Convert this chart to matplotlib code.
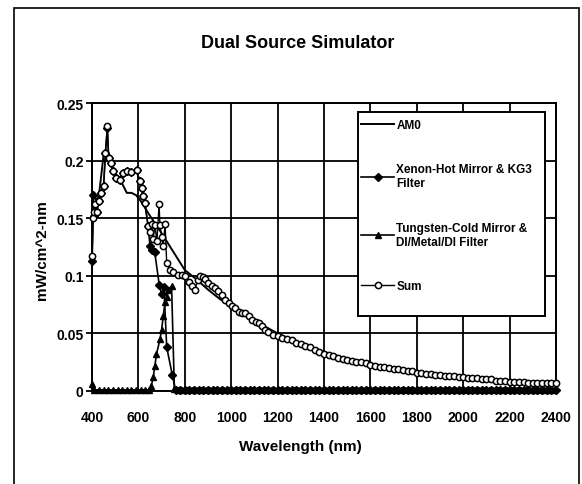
import matplotlib
matplotlib.use("Agg")
import matplotlib.pyplot as plt
from matplotlib.patches import Rectangle

plt.rcParams['font.family'] = ['Liberation Sans', 'DejaVu Sans']
plt.rcParams['font.weight'] = 'bold'

title = "Dual Source Simulator"
xlabel = "Wavelength (nm)"
ylabel = "mW/cm^2-nm"
series_names = ["AM0", "Xenon-Hot Mirror & KG3\nFilter",
                "Tungsten-Cold Mirror &\nDI/Metal/DI Filter", "Sum"]
xticks = [400, 600, 800, 1000, 1200, 1400, 1600, 1800, 2000, 2200, 2400]
yticks = [0, 0.05, 0.1, 0.15, 0.2, 0.25]
ytick_labels = ["0", "0.05", "0.1", "0.15", "0.2", "0.25"]

# AM0 reference spectrum
am0_wl = [400, 405, 420, 430, 450, 470, 490, 510, 530, 550, 570, 590, 610, 650,
          700, 750, 800, 850, 900, 950, 1000, 1100, 1200, 1300, 1400, 1500, 1600,
          1700, 1800, 1900, 2000, 2100, 2200, 2300, 2400]
am0_val = [0.112, 0.172, 0.165, 0.170, 0.205, 0.203, 0.192, 0.186, 0.180, 0.172,
           0.172, 0.170, 0.165, 0.152, 0.137, 0.121, 0.105, 0.097, 0.088, 0.080,
           0.073, 0.061, 0.050, 0.041, 0.034, 0.028, 0.023, 0.019, 0.016, 0.014,
           0.012, 0.010, 0.009, 0.008, 0.007]

# Xenon with hot mirror & KG3
xe_wl = [400, 405, 410, 420, 430, 440, 450, 458, 466, 472, 481, 491, 505, 520, 534,
         549, 570, 592, 606, 614, 621, 628, 642, 650, 660, 670, 690, 700, 710, 722,
         746,
         760, 780, 800, 820, 840, 860, 880, 900, 920, 940, 960, 980, 1000, 1020,
         1040, 1060, 1080, 1100, 1120, 1140, 1160, 1180, 1200, 1220, 1240, 1260,
         1280, 1300, 1320, 1340, 1360, 1380, 1400, 1420, 1440, 1460, 1480, 1500,
         1520, 1540, 1560, 1580, 1600, 1620, 1640, 1660, 1680, 1700, 1720, 1740,
         1760, 1780, 1800, 1820, 1840, 1860, 1880, 1900, 1920, 1940, 1960, 1980,
         2000, 2020, 2040, 2060, 2080, 2100, 2120, 2140, 2160, 2180, 2200, 2220,
         2240, 2260, 2280, 2300, 2320, 2340, 2360, 2380, 2400]
xe_val = [0.113, 0.170, 0.152, 0.155, 0.165, 0.172, 0.178, 0.207, 0.228, 0.202,
          0.198, 0.191, 0.185, 0.183, 0.189, 0.191, 0.190, 0.192, 0.182, 0.176,
          0.169, 0.163, 0.143, 0.126, 0.122, 0.121, 0.092, 0.084, 0.090, 0.038,
          0.014,
          0.001, 0.001, 0.001, 0.001, 0.001, 0.001, 0.001, 0.001, 0.001, 0.001,
          0.001, 0.001, 0.001, 0.001, 0.001, 0.001, 0.001, 0.001, 0.001, 0.001,
          0.001, 0.001, 0.001, 0.001, 0.001, 0.001, 0.001, 0.001, 0.001, 0.001,
          0.001, 0.001, 0.001, 0.001, 0.001, 0.001, 0.001, 0.001, 0.001, 0.001,
          0.001, 0.001, 0.001, 0.001, 0.001, 0.001, 0.001, 0.001, 0.001, 0.001,
          0.001, 0.001, 0.001, 0.001, 0.001, 0.001, 0.001, 0.001, 0.001, 0.001,
          0.001, 0.001, 0.001, 0.001, 0.001, 0.001, 0.001, 0.001, 0.001, 0.001,
          0.001, 0.001, 0.001, 0.001, 0.001, 0.001, 0.001, 0.001, 0.001, 0.001,
          0.001, 0.001, 0.001]

# Tungsten with cold mirror & DI/Metal/DI filter
w_wl = [400, 410, 430, 450, 470, 490, 510, 530, 550, 570, 590, 610, 630, 645, 655,
        664, 671, 678, 693, 700, 707, 715, 722, 729, 743, 755,
        770, 790, 810, 830, 850, 870, 890, 910, 930, 950, 970, 990, 1010, 1030,
        1050, 1070, 1090, 1110, 1130, 1150, 1170, 1190, 1210, 1230, 1250, 1270,
        1290, 1310, 1330, 1350, 1370, 1390, 1410, 1430, 1450, 1470, 1490, 1510,
        1530, 1550, 1570, 1590, 1610, 1630, 1650, 1670, 1690, 1710, 1730, 1750,
        1770, 1790, 1810, 1830, 1850, 1870, 1890, 1910, 1930, 1950, 1970, 1990,
        2010, 2030, 2050, 2070, 2090, 2110, 2130, 2150, 2170, 2190, 2210, 2230,
        2250, 2270, 2290, 2310, 2330, 2350, 2370, 2390]
w_val = [0.006, 0.001, 0.001, 0.001, 0.001, 0.001, 0.001, 0.001, 0.001, 0.001,
         0.001, 0.001, 0.001, 0.001, 0.004, 0.012, 0.022, 0.032, 0.045, 0.053,
         0.065, 0.077, 0.082, 0.088, 0.091, 0.002,
         0.001, 0.001, 0.001, 0.001, 0.001, 0.001, 0.001, 0.001, 0.001, 0.001,
         0.001, 0.001, 0.001, 0.001, 0.001, 0.001, 0.001, 0.001, 0.001, 0.001,
         0.001, 0.001, 0.001, 0.001, 0.001, 0.001, 0.001, 0.001, 0.001, 0.001,
         0.001, 0.001, 0.001, 0.001, 0.001, 0.001, 0.001, 0.001, 0.001, 0.001,
         0.001, 0.001, 0.001, 0.001, 0.001, 0.001, 0.001, 0.001, 0.001, 0.001,
         0.001, 0.001, 0.001, 0.001, 0.001, 0.001, 0.001, 0.001, 0.001, 0.001,
         0.001, 0.001, 0.001, 0.001, 0.001, 0.001, 0.001, 0.001, 0.001, 0.001,
         0.001, 0.001, 0.001, 0.001, 0.001, 0.001, 0.001, 0.001, 0.001, 0.001,
         0.001, 0.001]

# Sum
sum_wl = [400, 405, 410, 415, 420, 430, 440, 450, 458, 466, 472, 481, 491, 505, 520,
          534, 549, 570, 592, 606, 614, 621, 628, 642, 650, 657, 664, 671, 680, 689,
          693, 700, 707, 715, 722, 736, 751, 772, 790, 801, 816, 830, 844, 855, 866,
          877, 888, 900, 917, 930, 945, 960, 974, 990, 1003, 1018, 1032, 1046, 1061,
          1075, 1090, 1105, 1119, 1133, 1147,
          1160, 1180, 1200, 1220, 1240, 1260, 1280, 1300, 1320, 1340, 1360, 1380,
          1400, 1420, 1440, 1460, 1480, 1500, 1520, 1540, 1560, 1580, 1600, 1620,
          1640, 1660, 1680, 1700, 1720, 1740, 1760, 1780, 1800, 1820, 1840, 1860,
          1880, 1900, 1920, 1940, 1960, 1980, 2000, 2020, 2040, 2060, 2080, 2100,
          2120, 2140, 2160, 2180, 2200, 2220, 2240, 2260, 2280, 2300, 2320, 2340,
          2360, 2380, 2400]
sum_val = [0.117, 0.150, 0.155, 0.162, 0.155, 0.165, 0.172, 0.178, 0.207, 0.230,
           0.202, 0.198, 0.191, 0.185, 0.183, 0.189, 0.191, 0.190, 0.192, 0.182,
           0.176, 0.169, 0.163, 0.143, 0.138, 0.145, 0.132, 0.144, 0.130, 0.162,
           0.144, 0.134, 0.126, 0.145, 0.111, 0.105, 0.103, 0.101, 0.101, 0.100,
           0.095, 0.091, 0.088, 0.096, 0.100, 0.099, 0.097, 0.094, 0.091, 0.089,
           0.087, 0.083, 0.079, 0.076, 0.074, 0.072, 0.069, 0.068, 0.068, 0.065,
           0.062, 0.060, 0.059, 0.056, 0.053,
           0.051, 0.049, 0.048, 0.046, 0.045, 0.044, 0.042, 0.041, 0.039, 0.038,
           0.036, 0.034, 0.032, 0.031, 0.030, 0.029, 0.028, 0.027, 0.026, 0.025,
           0.025, 0.024, 0.023, 0.022, 0.021, 0.021, 0.020, 0.019, 0.019, 0.018,
           0.017, 0.017, 0.016, 0.016, 0.015, 0.015, 0.014, 0.014, 0.013, 0.013,
           0.013, 0.012, 0.012, 0.011, 0.011, 0.011, 0.010, 0.010, 0.010, 0.009,
           0.009, 0.009, 0.008, 0.008, 0.008, 0.008, 0.007, 0.007, 0.007, 0.007,
           0.007, 0.007, 0.007]

W, H = 582, 485
fig = plt.figure(figsize=(W / 100, H / 100), dpi=100)
ax = fig.add_axes([92 / W, 1 - 392 / H, (556 - 92) / W, (392 - 104) / H])

ax.plot(am0_wl, am0_val, color='black', lw=1.4, zorder=3, label=series_names[0])
ax.plot(xe_wl, xe_val, color='black', lw=1.2, marker='D', ms=4,
        mfc='black', mec='black', zorder=4, label=series_names[1], clip_on=False)
ax.plot(w_wl, w_val, color='black', lw=1.2, marker='^', ms=4.5,
        mfc='black', mec='black', zorder=4, label=series_names[2], clip_on=False)
ax.plot(sum_wl, sum_val, color='black', lw=1.0, marker='o', ms=4.5,
        mfc='white', mec='black', mew=1.1, zorder=5, label=series_names[3],
        clip_on=False)

ax.set_xlim(400, 2400)
ax.set_ylim(0, 0.25)
ax.set_xticks(xticks)
ax.set_xticklabels([str(v) for v in xticks])
ax.set_yticks(yticks)
ax.set_yticklabels(ytick_labels)
ax.grid(True, color='black', lw=1.3)
ax.set_axisbelow(True)
for s in ax.spines.values():
    s.set_linewidth(1.4)
    s.set_color('black')
ax.tick_params(axis='y', direction='out', length=4, width=1.3, pad=2, labelsize=10)
ax.tick_params(axis='x', length=0, pad=14, labelsize=10)
for t in ax.get_xticklabels() + ax.get_yticklabels():
    t.set_fontweight('bold')

# legend box
ax.add_patch(Rectangle((358 / W, 1 - 317 / H), (545 - 358) / W, (317 - 113) / H,
                       transform=fig.transFigure, facecolor='white',
                       edgecolor='black', lw=1.4, zorder=6, clip_on=False))
leg = ax.legend(loc='upper left', bbox_to_anchor=(361 / W, 1 - 120 / H),
                bbox_transform=fig.transFigure, frameon=False, fontsize=8.5,
                labelspacing=2.75, handlelength=2.8, handletextpad=0.2,
                borderpad=0, borderaxespad=0)
leg.set_zorder(7)
for t in leg.get_texts():
    t.set_fontweight('bold')

# outer frame
fig.add_artist(Rectangle((14 / W, -0.02), (579 - 14) / W, 1.02 - 9 / H,
                         transform=fig.transFigure, facecolor='none',
                         edgecolor='black', lw=1.2))

fig.text(298 / W, 1 - 43 / H, title, ha='center', va='center', fontsize=13,
         fontweight='bold')
fig.text(300 / W, 1 - 447 / H, xlabel, ha='center', va='center', fontsize=11,
         fontweight='bold')
fig.text(42 / W, 1 - 250 / H, ylabel, ha='center', va='center', fontsize=11,
         fontweight='bold', rotation=90)

fig.savefig("out.png", dpi=100)
